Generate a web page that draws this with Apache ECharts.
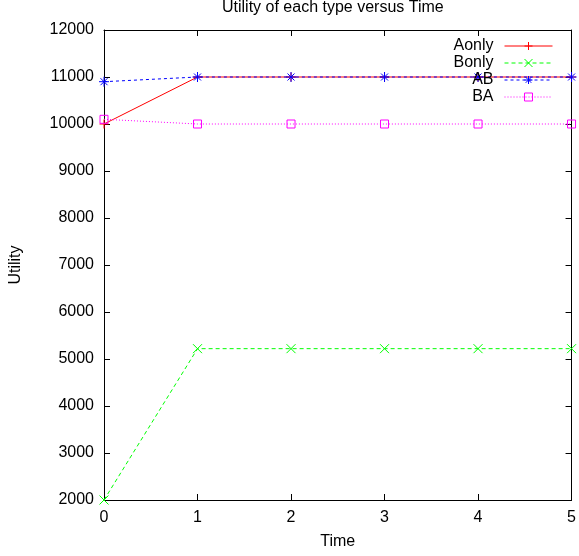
<!DOCTYPE html>
<html>
<head>
<meta charset="utf-8">
<script src="https://cdn.jsdelivr.net/npm/echarts@6/dist/echarts.min.js"></script>
<style>
html,body{margin:0;padding:0;background:#fff;}
#chart{width:579px;height:556px;}
</style>
</head>
<body>
<div id="chart"></div>
<script>
var times = [0, 1, 2, 3, 4, 5];
var seriesNames = ['Aonly', 'Bonly', 'AB', 'BA'];
var aonly = [10000, 11000, 11000, 11000, 11000, 11000];
var bonly = [2000, 5220, 5220, 5220, 5220, 5220];
var ab = [10900, 11000, 11000, 11000, 11000, 11000];
var ba = [10100, 10000, 10000, 10000, 10000, 10000];
var yTicks = [2000, 3000, 4000, 5000, 6000, 7000, 8000, 9000, 10000, 11000, 12000];
var titleText = 'Utility of each type versus Time';
var xName = 'Time';
var yName = 'Utility';

var FONT = '"Liberation Sans", Arial, sans-serif';
function pairs(vals) { return times.map(function (t, i) { return [t, vals[i]]; }); }

var SYM_PLUS = 'path://M5,0 L5,10 M0,5 L10,5';
var SYM_CROSS = 'path://M0,0 L10,10 M10,0 L0,10';
var SYM_STAR = 'path://M5,0 L5,10 M0,5 L10,5 M1.5,1.5 L8.5,8.5 M8.5,1.5 L1.5,8.5';
var SYM_SQ = 'path://M0,0 L10,0 L10,10 L0,10 Z';

function mkSeries(name, vals, color, type, sym, size, fill) {
  return {
    name: name, type: 'line', data: pairs(vals),
    symbol: sym, symbolSize: size, showAllSymbol: true,
    lineStyle: { color: color, width: 1, type: type },
    itemStyle: { color: fill, borderColor: color, borderWidth: 1 },
    emphasis: { disabled: true },
    animation: false, z: 3
  };
}

var axisCommon = {
  axisLine: { show: true, onZero: false, lineStyle: { color: '#000', width: 1 } },
  axisTick: { show: true, inside: true, length: 6, lineStyle: { color: '#000' } },
  splitLine: { show: false }
};

var chart = echarts.init(document.getElementById('chart'), null, { renderer: 'canvas' });
chart.setOption({
  backgroundColor: '#fff',
  animation: false,
  title: {
    text: titleText, left: 222, top: 0, padding: [0, 0, 0, 0],
    textStyle: { fontFamily: FONT, fontSize: 16, fontWeight: 'normal', color: '#000' }
  },
  grid: { left: 102, right: 7, top: 30, bottom: 56, containLabel: false },
  legend: {
    orient: 'vertical', right: 26, top: 38, align: 'right',
    itemWidth: 48, itemHeight: 10, itemGap: 1, padding: 0,
    data: seriesNames,
    lineStyle: { width: 1 },
    itemStyle: { borderWidth: 1 },
    textStyle: { fontFamily: FONT, fontSize: 16, color: '#000', padding: [0, 6, 0, 0] },
    selectedMode: false
  },
  xAxis: [
    Object.assign({}, axisCommon, {
      type: 'value', position: 'bottom', min: 0, max: 5, interval: 1,
      name: xName, nameLocation: 'middle', nameGap: 34,
      nameTextStyle: { fontFamily: FONT, fontSize: 16, color: '#000' },
      axisLabel: { fontFamily: FONT, fontSize: 16, color: '#000', margin: 10 }
    }),
    Object.assign({}, axisCommon, {
      type: 'value', position: 'top', min: 0, max: 5, interval: 1,
      axisLabel: { show: false }
    })
  ],
  yAxis: [
    Object.assign({}, axisCommon, {
      type: 'value', position: 'left', min: yTicks[0], max: yTicks[yTicks.length - 1], interval: 1000,
      name: yName, nameLocation: 'middle', nameGap: 80,
      nameTextStyle: { fontFamily: FONT, fontSize: 16, color: '#000' },
      axisLabel: { fontFamily: FONT, fontSize: 16, color: '#000', margin: 10,
        formatter: function (v) { return String(v); } }
    }),
    Object.assign({}, axisCommon, {
      type: 'value', position: 'right', min: yTicks[0], max: yTicks[yTicks.length - 1], interval: 1000,
      axisLabel: { show: false }
    })
  ],
  series: [
    mkSeries('Aonly', aonly, '#ff0000', 'solid', SYM_PLUS, 9, '#ff0000'),
    mkSeries('Bonly', bonly, '#00ff00', [4, 3], SYM_CROSS, 9, '#00ff00'),
    mkSeries('AB', ab, '#0000ff', [3, 3], SYM_STAR, 10, '#0000ff'),
    mkSeries('BA', ba, '#ff00ff', [1, 2], SYM_SQ, 8, 'rgba(0,0,0,0)')
  ]
});
</script>
</body>
</html>
